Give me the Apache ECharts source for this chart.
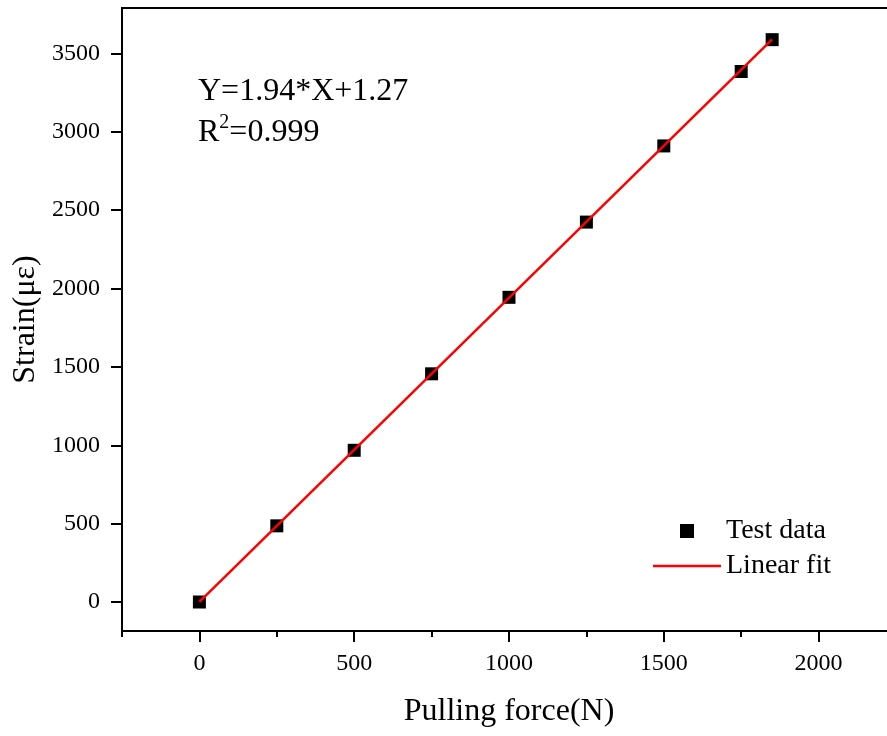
<!DOCTYPE html>
<html>
<head>
<meta charset="utf-8">
<script src="https://cdn.jsdelivr.net/npm/echarts@6/dist/echarts.min.js"></script>
<style>
  html, body { margin: 0; padding: 0; background: #fff; }
  #main { width: 887px; height: 736px; }
</style>
</head>
<body>
<div id="main"></div>
<script>
// 数据
var forceN = [0, 250, 500, 750, 1000, 1250, 1500, 1750, 1850];
var strain = [0, 486, 968, 1456, 1944, 2424, 2910, 3385, 3588];
var fitX = [0, 1850];
var fitY = [1.27, 3590.27];
var xRange = [-250, 2250];
var yRange = [-185, 3790];
var xTicks = [0, 500, 1000, 1500, 2000];
var yTicks = [0, 500, 1000, 1500, 2000, 2500, 3000, 3500];

var FONT = 'Liberation Serif';

var testData = forceN.map(function (x, i) { return [x, strain[i]]; });
var fitData = fitX.map(function (x, i) { return [x, fitY[i]]; });

// 边界刻度不显示标签
function labelFmt(range) {
  return function (v) {
    if (v <= range[0] || v >= range[1]) return '';
    return String(v);
  };
}

var myChart = echarts.init(document.getElementById('main'));
var option = {
  animation: false,
  backgroundColor: '#fff',
  grid: {
    left: 122,
    top: 8,
    right: -9,
    bottom: 105,
    outerBoundsMode: 'none',
    containLabel: false,
    show: true,
    borderColor: '#000',
    borderWidth: 2
  },
  legend: {
    left: 648,
    top: 512,
    orient: 'vertical',
    itemWidth: 68,
    itemHeight: 14,
    itemGap: 7,
    textStyle: { fontFamily: FONT, fontSize: 28, color: '#000' },
    data: [
      { name: 'Test data', icon: 'path://M0,0h10v10h-10z' },
      { name: 'Linear fit', icon: 'path://M0,0h68v2.5h-68z' }
    ]
  },
  xAxis: [{
    type: 'value',
    min: xRange[0],
    max: xRange[1],
    position: 'bottom',
    name: 'Pulling force(N)',
    nameLocation: 'middle',
    nameGap: 65,
    nameTextStyle: { fontFamily: FONT, fontSize: 32, color: '#000' },
    axisLine: { show: true, onZero: false, lineStyle: { color: '#000', width: 2 } },
    axisTick: { show: true, length: 11, customValues: xTicks, lineStyle: { color: '#000', width: 2 } },
    axisLabel: { show: true, margin: 21, formatter: labelFmt(xRange), fontFamily: FONT, fontSize: 24, color: '#000' },
    splitLine: { show: false }
  }, {
    // 次刻度 (从 -250 起，每 500)
    type: 'value',
    min: xRange[0],
    max: xRange[1],
    interval: 500,
    position: 'bottom',
    axisLine: { show: false, onZero: false },
    axisTick: { show: true, length: 6, lineStyle: { color: '#000', width: 2 } },
    axisLabel: { show: false },
    splitLine: { show: false }
  }],
  yAxis: {
    type: 'value',
    min: yRange[0],
    max: yRange[1],
    splitNumber: 8,
    name: 'Strain(με)',
    nameLocation: 'middle',
    nameGap: 66,
    nameTextStyle: { fontFamily: FONT, fontSize: 32, color: '#000' },
    axisLine: { show: true, onZero: false, lineStyle: { color: '#000', width: 2 } },
    axisTick: { show: true, length: 11, customValues: yTicks, lineStyle: { color: '#000', width: 2 } },
    axisLabel: { show: true, margin: 22, formatter: labelFmt(yRange), fontFamily: FONT, fontSize: 24, color: '#000' },
    splitLine: { show: false }
  },
  graphic: [{
    type: 'text',
    left: 198,
    top: 76,
    style: {
      text: 'Y=1.94*X+1.27',
      fontFamily: FONT,
      fontSize: 32,
      fill: '#000'
    }
  }, {
    type: 'text',
    left: 198,
    top: 113,
    style: {
      text: '{a|R}{s|2}{a|=0.999}',
      rich: {
        a: { fontFamily: FONT, fontSize: 32, lineHeight: 36, fill: '#000', verticalAlign: 'bottom' },
        s: { fontFamily: FONT, fontSize: 20, lineHeight: 20, fill: '#000', verticalAlign: 'top' }
      }
    }
  }],
  series: [{
    name: 'Test data',
    type: 'scatter',
    symbol: 'rect',
    symbolSize: 13,
    itemStyle: { color: '#000', opacity: 1 },
    z: 2,
    data: testData
  }, {
    name: 'Linear fit',
    type: 'line',
    symbol: 'none',
    showSymbol: false,
    lineStyle: { color: '#ff0000', width: 2.5 },
    itemStyle: { color: '#ff0000' },
    z: 3,
    data: fitData
  }]
};
myChart.setOption(option);
</script>
</body>
</html>
